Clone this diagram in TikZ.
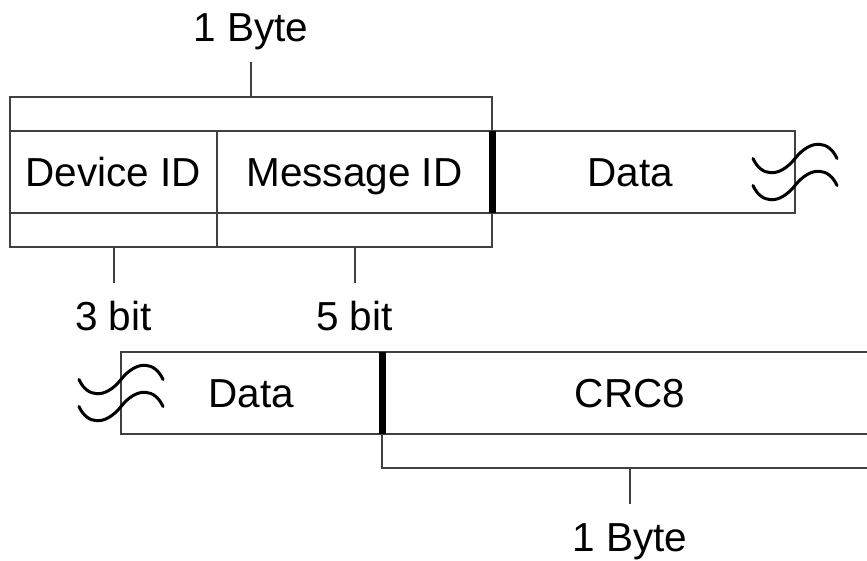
\documentclass[tikz,border=0pt]{standalone}
\usepackage{fontspec}
\setmainfont{Liberation Sans}
\usetikzlibrary{positioning}

\tikzset{
  field/.style={shape=rectangle,draw=black!75,line width=2pt,inner sep=0pt,outer sep=0pt,
                minimum height=82pt,text height=29pt,text depth=0pt},
  bracket/.style={shape=rectangle,draw=black!75,line width=2pt,inner sep=0pt,outer sep=0pt,
                  minimum height=34pt},
  tick/.style={draw=black!75,line width=2pt},
  size/.style={inner sep=0pt,text height=28pt,text depth=0pt},
  sepbar/.style={draw=black,line width=7pt},
  wave/.style={draw=black,line width=3pt,line cap=round},
  breakmark/.pic={
    \foreach \dy in {-13.5,13.5}
      \draw [wave] (-42,\dy) .. controls (-34,\dy+18) and (-16,\dy+20) .. (0,\dy)
                   .. controls (16,\dy-20) and (34,\dy-18) .. (42,\dy);
  }
}

\begin{document}
\begin{tikzpicture}[x=1pt,y=-1pt,font=\fontsize{40.5}{48}\selectfont]
  \clip (0,0) rectangle (867,560);

  % first frame
  \node (devid) [field,minimum width=207pt,anchor=north west] at (10,131) {Device ID};
  \node (msgid) [field,minimum width=275pt,right=0pt of devid] {Message ID};
  \node (data) [field,minimum width=303pt,right=0pt of msgid] {Data\hspace*{26pt}};

  % brackets of the first frame
  \node (byte1) [bracket,minimum width=482pt,anchor=south west] at (devid.north west) {};
  \node (bits3) [bracket,minimum width=207pt,anchor=north west] at (devid.south west) {};
  \node (bits5) [bracket,minimum width=275pt,right=0pt of bits3] {};

  \coordinate [above=35pt of byte1.north] (t1);
  \coordinate [below=36pt of bits3.south] (t3);
  \coordinate [below=36pt of bits5.south] (t5);
  \node (lbyte1) [size,above=20pt of t1] {1 Byte};
  \node (lbits3) [size,below=19pt of t3] {3 bit};
  \node (lbits5) [size,below=19pt of t5] {5 bit};
  \draw [tick] (byte1) -- (t1);
  \draw [tick] (bits3) -- (t3);
  \draw [tick] (bits5) -- (t5);

  % second frame
  \node (data2) [field,minimum width=261pt,anchor=north west] at (121,352) {Data};
  \node (crc) [field,minimum width=496pt,right=0pt of data2] {CRC8};

  \node (byte2) [bracket,minimum width=496pt,anchor=north west] at (crc.south west) {};
  \coordinate [below=36pt of byte2.south] (t2);
  \node (lbyte2) [size,below=19pt of t2] {1 Byte};
  \draw [tick] (byte2) -- (t2);

  % byte borders
  \draw [sepbar] (msgid.north east) -- (msgid.south east);
  \draw [sepbar] (data2.north east) -- (data2.south east);

  % the frame goes on
  \pic at (data.east) {breakmark};
  \pic at (data2.west) {breakmark};
\end{tikzpicture}
\end{document}
